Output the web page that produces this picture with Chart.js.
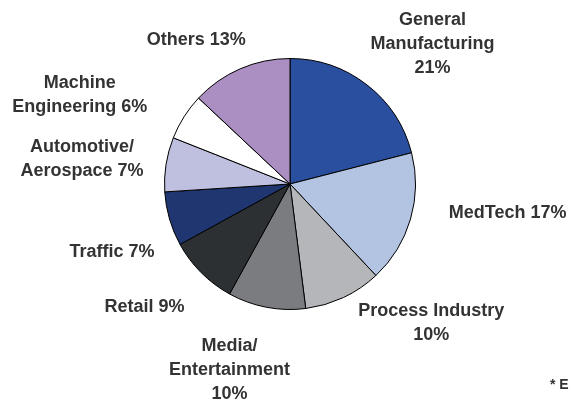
<!DOCTYPE html>
<html>
<head>
<meta charset="utf-8">
<script src="https://cdn.jsdelivr.net/npm/chart.js@4/dist/chart.umd.min.js"></script>
<style>
  html, body { margin: 0; padding: 0; background: #fff; }
</style>
</head>
<body>
<canvas id="pieChart" width="571" height="400"></canvas>
<script>
// data
var categories = [
  "General Manufacturing",
  "MedTech",
  "Process Industry",
  "Media/Entertainment",
  "Retail",
  "Traffic",
  "Automotive/Aerospace",
  "Machine Engineering",
  "Others",
];
var shares = [21, 17, 10, 10, 9, 7, 7, 6, 13];

// how each label is broken into lines; true = percentage on its own line
var labelLines = [
  ["General", "Manufacturing"],
  ["MedTech"],
  ["Process Industry"],
  ["Media/", "Entertainment"],
  ["Retail"],
  ["Traffic"],
  ["Automotive/", "Aerospace"],
  ["Machine", "Engineering"],
  ["Others"],
];
var pctOwnLine = [true, false, true, true, false, false, false, false, false];

var colors = [
  "#2a4f9f",
  "#b3c4e3",
  "#b5b6ba",
  "#7b7c80",
  "#2d3033",
  "#1f3670",
  "#bfbfdf",
  "#ffffff",
  "#ab8fc2",
];

// label placement: angle nudge (deg) from slice middle, distance as multiple of radius
var labelNudge = [7.8, -8.6, -20.2, 7.2, 4.7, -4.8, -2.1, -9.4, -9.6];
var labelDist = [1.59, 1.75, 1.58, 1.56, 1.52, 1.52, 1.67, 1.82, 1.37];

var sliceLabels = {
  id: "sliceLabels",
  afterDraw: function (chart) {
    var ctx = chart.ctx;
    var arcs = chart.getDatasetMeta(0).data;
    ctx.save();
    ctx.font = "bold 18px 'Liberation Sans', Arial, sans-serif";
    ctx.fillStyle = "#333333";
    ctx.textAlign = "center";
    ctx.textBaseline = "middle";
    arcs.forEach(function (arc, i) {
      var p = arc.getProps(["x", "y", "startAngle", "endAngle", "outerRadius"], true);
      var a = (p.startAngle + p.endAngle) / 2 + (labelNudge[i] * Math.PI) / 180;
      var r = p.outerRadius * labelDist[i];
      var cx = p.x + Math.cos(a) * r;
      var cy = p.y + Math.sin(a) * r;
      var lines = labelLines[i].slice();
      var pct = shares[i] + "%";
      if (pctOwnLine[i]) lines.push(pct);
      else lines[lines.length - 1] += " " + pct;
      var lh = 24;
      var top = cy - ((lines.length - 1) * lh) / 2;
      lines.forEach(function (t, k) {
        ctx.fillText(t, cx, top + k * lh);
      });
    });
    ctx.font = "bold 14px 'Liberation Sans', Arial, sans-serif";
    ctx.textAlign = "left";
    ctx.fillText("* E", 550, 385);
    ctx.restore();
  },
};

var ctxP = document.getElementById("pieChart").getContext("2d");
var myPieChart = new Chart(ctxP, {
  type: "pie",
  data: {
    labels: categories,
    datasets: [
      {
        data: shares,
        backgroundColor: colors,
        borderColor: "#000000",
        borderWidth: 1,
      },
    ],
  },
  options: {
    responsive: false,
    animation: false,
    layout: {
      padding: { top: 58, bottom: 90, left: 164, right: 155 },
    },
    plugins: {
      legend: { display: false },
      tooltip: { enabled: false },
    },
  },
  plugins: [sliceLabels],
});
</script>
</body>
</html>
